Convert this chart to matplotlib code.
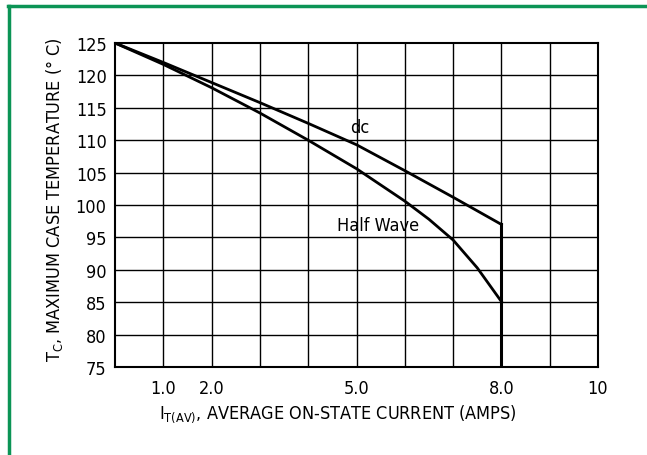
import matplotlib.pyplot as plt
from matplotlib.lines import Line2D

plt.rcParams['font.family'] = ['Liberation Sans Narrow', 'DejaVu Sans']
plt.rcParams['font.stretch'] = 'condensed'

# values
x_dc = [0, 1, 2, 3, 4, 5, 6, 7, 8]
dc = [125, 122.0, 118.9, 115.8, 112.6, 109.3, 105.3, 101.2, 97.0]

x_hw = [0, 1, 2, 3, 4, 5, 6, 6.5, 7, 7.5, 8]
half_wave = [125, 121.7, 118.1, 114.2, 110.0, 105.6, 100.6, 97.8, 94.6, 90.3, 85.1]

x_ticks = [1, 2, 5, 8, 10]
x_ticklabels = ['1.0', '2.0', '5.0', '8.0', '10']
y_ticks = [75, 80, 85, 90, 95, 100, 105, 110, 115, 120, 125]

fig = plt.figure(figsize=(6.47, 4.56), dpi=100)
ax = fig.add_axes([115/647, 88/456, 483/647, 324/456])

# grid lines at every unit / every 5 degrees
for gx in range(1, 10):
    ax.axvline(gx, color='black', lw=1.0, zorder=1)
for gy in y_ticks[1:-1]:
    ax.axhline(gy, color='black', lw=1.0, zorder=1)

ax.plot(x_dc, dc, color='black', lw=2.0, zorder=3)
ax.plot(x_hw, half_wave, color='black', lw=2.0, zorder=3)
ax.plot([x_dc[-1], x_dc[-1]], [75, dc[-1]], color='black', lw=2.2, zorder=3)

ax.text(5.07, 112.0, 'dc', fontsize=13, ha='center', va='center')
ax.text(5.45, 96.9, 'Half Wave', fontsize=13, ha='center', va='center')

ax.set_xlim(0, 10)
ax.set_ylim(75, 125)
ax.set_xticks(x_ticks)
ax.set_xticklabels(x_ticklabels)
ax.set_yticks(y_ticks)
ax.tick_params(length=0, labelsize=13)
ax.tick_params(axis='x', pad=9)
ax.tick_params(axis='y', pad=6)

for s in ax.spines.values():
    s.set_linewidth(1.5)

ax.set_xlabel('I$_{\\mathregular{T(AV)}}$, AVERAGE ON-STATE CURRENT (AMPS)', fontsize=13)
ax.set_ylabel('T$_{\\mathregular{C}}$, MAXIMUM CASE TEMPERATURE (° C)', fontsize=13)
ax.xaxis.set_label_coords(0.462, -0.11)
ax.yaxis.set_label_coords(-0.104, 0.52)

# green frame on top and left edge
fig.add_artist(Line2D([9/647, 9/647], [0, 1 - 7/456], transform=fig.transFigure, color='#0b9455', lw=2.5))
fig.add_artist(Line2D([8/647, 1], [1 - 7/456, 1 - 7/456], transform=fig.transFigure, color='#0b9455', lw=2.5))

fig.savefig('out.png', dpi=100)
